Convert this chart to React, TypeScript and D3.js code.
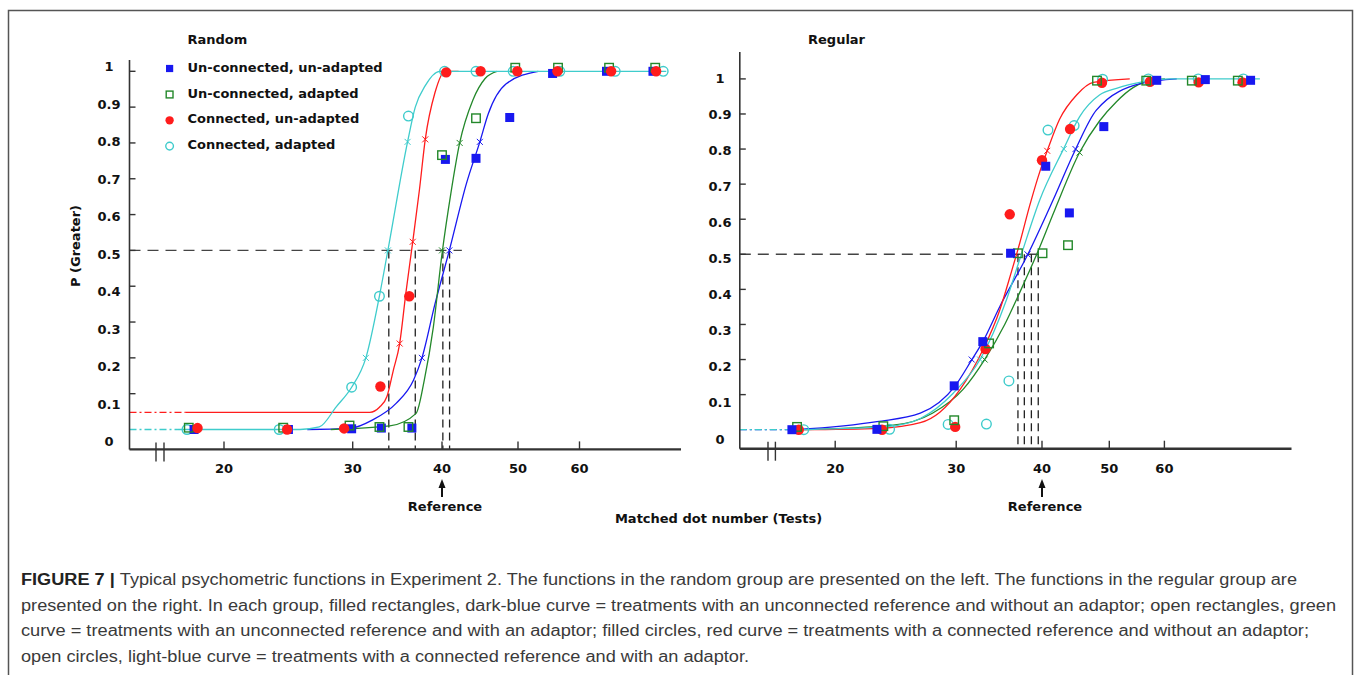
import * as d3 from 'd3'

type Pt = [number, number]

// ---- data ----
const xTickValues = [20, 30, 40, 50, 60]
const yTickValues = [0.1, 0.2, 0.3, 0.4, 0.5, 0.6, 0.7, 0.8, 0.9, 1]
const yLabelValues = [0, 0.1, 0.2, 0.3, 0.4, 0.5, 0.6, 0.7, 0.8, 0.9, 1]
const legendLabels = ['Un-connected, un-adapted', 'Un-connected, adapted', 'Connected, un-adapted', 'Connected, adapted']

// Random group: observed points [matched dot number, P(greater)]
const randomUU: Pt[] = [[18.2, 0], [24.5, 0], [29.9, 0.002], [32.9, 0.004], [36.3, 0.004], [40.4, 0.754], [44.2, 0.757], [48.8, 0.871], [55.4, 0.994], [65.0, 1.0], [74.6, 1.0]]
const randomUA: Pt[] = [[17.9, 0.005], [24.1, 0.005], [29.7, 0.011], [32.7, 0.007], [35.9, 0.007], [40.0, 0.766], [44.2, 0.869], [49.6, 1.01], [56.3, 1.01], [65.5, 1.01], [75.1, 1.01]]
const randomCU: Pt[] = [[18.4, 0.004], [24.4, 0], [29.2, 0.003], [32.8, 0.12], [36.0, 0.372], [40.5, 0.997], [44.8, 1.0], [49.9, 1.0], [56.2, 1.0], [65.9, 1.0], [75.3, 1.0]]
const randomCA: Pt[] = [[17.8, 0], [23.8, 0], [29.9, 0.118], [32.7, 0.372], [35.9, 0.875], [40.3, 1.0], [44.2, 1.0], [49.3, 1.0], [56.6, 1.0], [66.7, 1.0], [76.9, 1.0]]

// Random group: fitted curves
const randomUUFit: Pt[] = [[26.0, 0], [29.7, 0.003], [32.0, 0.027], [34.5, 0.073], [36.5, 0.138], [37.5, 0.2], [39.1, 0.35], [40.87, 0.5], [42.98, 0.687], [44.7, 0.803], [45.8, 0.88], [48.3, 0.965], [53.1, 1.0]]
const randomUAFit: Pt[] = [[28.0, 0], [33.8, 0.01], [36.8, 0.045], [37.8, 0.14], [38.9, 0.286], [40.0, 0.49], [41.06, 0.66], [42.13, 0.8], [43.8, 0.92], [45.4, 0.98], [47.0, 1.0]]
const randomCUFit: Pt[] = [[17.7, 0.048], [31.7, 0.048], [32.7, 0.062], [33.5, 0.092], [34.2, 0.166], [34.9, 0.24], [35.6, 0.38], [36.4, 0.524], [37.2, 0.67], [37.9, 0.81], [39.1, 0.94], [40.35, 1.0], [42.0, 1.0]]
const randomCAFit: Pt[] = [[17.3, 0], [25.4, 0], [27.0, 0.007], [28.5, 0.064], [29.9, 0.118], [31.3, 0.2], [32.7, 0.373], [33.6, 0.5], [35.8, 0.803], [36.7, 0.9], [37.9, 0.96], [39.7, 1.0], [77.6, 1.0]]

// Random group: small x marks on the curves
const randomUUMarks: Pt[] = [[37.5, 0.2], [40.87, 0.5], [44.7, 0.803]]
const randomUAMarks: Pt[] = [[40.0, 0.5], [42.13, 0.8]]
const randomCUMarks: Pt[] = [[34.9, 0.24], [36.4, 0.524], [37.9, 0.81]]
const randomCAMarks: Pt[] = [[31.3, 0.2], [33.6, 0.5], [35.8, 0.803]]
const randomThresholds = [33.7, 36.7, 40.1, 40.9]

// Regular group: observed points
const regularUU: Pt[] = [[17.3, 0], [23.0, 0.001], [29.8, 0.125], [32.8, 0.251], [36.0, 0.503], [40.5, 0.751], [43.8, 0.618], [49.1, 0.864], [58.5, 0.996], [68.7, 0.998], [79.8, 0.996]]
const regularUA: Pt[] = [[17.6, 0.008], [23.5, 0.01], [29.8, 0.027], [33.5, 0.246], [36.9, 0.503], [40.07, 0.503], [43.6, 0.526], [48.0, 0.995], [56.5, 0.995], [65.7, 0.995], [76.5, 0.995]]
const regularCU: Pt[] = [[17.7, 0], [23.4, 0], [29.9, 0.008], [33.1, 0.23], [35.9, 0.614], [40.0, 0.768], [43.9, 0.857], [48.8, 0.989], [57.2, 0.992], [67.2, 0.99], [77.7, 0.99]]
const regularCA: Pt[] = [[18.0, 0], [24.0, 0.001], [29.2, 0.015], [33.2, 0.016], [35.8, 0.139], [40.8, 0.854], [44.5, 0.867], [48.9, 0.999], [56.9, 1.0], [67.1, 1.0], [77.9, 1.0]]

// Regular group: fitted curves
const regularUUFit: Pt[] = [[17.6, 0], [23.0, 0.023], [26.6, 0.047], [29.9, 0.125], [31.6, 0.199], [32.8, 0.251], [34.7, 0.35], [38.1, 0.498], [41.5, 0.655], [44.7, 0.799], [47.9, 0.911], [55.6, 0.987], [62.5, 1.0]]
const regularUAFit: Pt[] = [[17.8, 0], [24.3, 0.013], [27.7, 0.047], [30.7, 0.115], [33.0, 0.2], [35.3, 0.3], [37.1, 0.39], [39.3, 0.5], [41.8, 0.63], [45.3, 0.79], [48.4, 0.88], [51.2, 0.935], [54.1, 0.975], [56.5, 0.992], [60.1, 1.0]]
const regularCUFit: Pt[] = [[17.8, 0], [23.2, 0.004], [26.6, 0.02], [28.4, 0.05], [30.4, 0.115], [32.8, 0.227], [34.7, 0.34], [36.1, 0.45], [37.1, 0.53], [38.4, 0.64], [39.7, 0.735], [40.7, 0.795], [42.4, 0.885], [44.9, 0.955], [47.4, 0.99], [53.5, 1.0]]
const regularCAFit: Pt[] = [[17.2, 0], [23.8, 0.009], [26.6, 0.032], [29.7, 0.104], [32.5, 0.2], [35.5, 0.37], [37.3, 0.498], [39.7, 0.655], [43.0, 0.802], [45.3, 0.892], [48.4, 0.954], [51.2, 0.973], [56.0, 0.992], [61.1, 1.0], [82.3, 1.0]]

const regularUUMarks: Pt[] = [[31.6, 0.2], [38.1, 0.5], [44.7, 0.8]]
const regularUAMarks: Pt[] = [[33.0, 0.2], [45.3, 0.79]]
const regularCUMarks: Pt[] = [[40.7, 0.795]]
const regularCAMarks: Pt[] = [[32.5, 0.2], [43.0, 0.8]]
const regularThresholds = [36.9, 37.7, 38.6, 39.5]

const captionLines = [
  'Typical psychometric functions in Experiment 2. The functions in the random group are presented on the left. The functions in the regular group are',
  'presented on the right. In each group, filled rectangles, dark-blue curve = treatments with an unconnected reference and without an adaptor; open rectangles, green',
  'curve = treatments with an unconnected reference and with an adaptor; filled circles, red curve = treatments with a connected reference and without an adaptor;',
  'open circles, light-blue curve = treatments with a connected reference and with an adaptor.',
]

// ---- styling ----
const BLUE = '#1818f0'
const GREEN = '#23882a'
const RED = '#ff1c1c'
const CYAN = '#3fcccc'
const AXIS = '#333'
const FONT = '"DejaVu Sans", Verdana, sans-serif'

const STYLE = {
  UU: { color: BLUE, shape: 'square', filled: true },
  UA: { color: GREEN, shape: 'square', filled: false },
  CU: { color: RED, shape: 'circle', filled: true },
  CA: { color: CYAN, shape: 'circle', filled: false },
}

const panels = [
  {
    title: 'Random', titleX: 187.5, legend: true,
    axisX: 129.5, axisTop: 60, axisY: 449.4, axisEnd: 681,
    xPx: [224, 352.7, 442, 518, 579.5], y0: 429.5, y1: 71.3, lab0: 441.5, lab1: 66.5, labX: 109,
    breaks: [156, 164], hDashEnd: 42.4, thresholds: randomThresholds,
    stubs: ['CU', 'CA'],
    fitOrder: ['UU', 'UA', 'CU', 'CA'],
    markerOrder: ['CA', 'UU', 'UA', 'CU'],
    series: {
      UU: { pts: randomUU, fit: randomUUFit, marks: randomUUMarks },
      UA: { pts: randomUA, fit: randomUAFit, marks: randomUAMarks },
      CU: { pts: randomCU, fit: randomCUFit, marks: randomCUMarks },
      CA: { pts: randomCA, fit: randomCAFit, marks: randomCAMarks },
    },
  },
  {
    title: 'Regular', titleX: 808, legend: false,
    axisX: 739.8, axisTop: 52, axisY: 448.7, axisEnd: 1291.5,
    xPx: [835.2, 956.2, 1042, 1109.3, 1164.4], y0: 429.7, y1: 78.9, lab0: 439, lab1: 78.5, labX: 720,
    breaks: [768, 775.4], hDashEnd: 39.5, thresholds: regularThresholds,
    stubs: ['UU', 'CA'],
    fitOrder: ['UA', 'UU', 'CU', 'CA'],
    markerOrder: ['CA', 'CU', 'UA', 'UU'],
    series: {
      UU: { pts: regularUU, fit: regularUUFit, marks: regularUUMarks },
      UA: { pts: regularUA, fit: regularUAFit, marks: regularUAMarks },
      CU: { pts: regularCU, fit: regularCUFit, marks: regularCUMarks },
      CA: { pts: regularCA, fit: regularCAFit, marks: regularCAMarks },
    },
  },
]

const fmt = (v: number) => (v === 0 ? '0' : v === 1 ? '1' : d3.format('.1f')(v))

function Marker({ cx, cy, kind, size = 1 }: { cx: number; cy: number; kind: string; size?: number }) {
  const s = STYLE[kind]
  if (s.shape === 'square') {
    const w = (s.filled ? 9 : 8.5) * size
    return (
      <rect x={cx - w / 2} y={cy - w / 2} width={w} height={w}
        fill={s.filled ? s.color : 'none'} stroke={s.color} strokeWidth={s.filled ? 0 : 1.4} />
    )
  }
  const r = (s.filled ? 5.2 : 4.8) * size
  return <circle cx={cx} cy={cy} r={r} fill={s.filled ? s.color : 'none'} stroke={s.color} strokeWidth={s.filled ? 0 : 1.4} />
}

function Panel({ cfg }) {
  const x = d3.scaleLog().domain(xTickValues).range(cfg.xPx)
  const y = d3.scaleLinear().domain([0, 1]).range([cfg.y0, cfg.y1])
  const yLab = d3.scaleLinear().domain([0, 1]).range([cfg.lab0, cfg.lab1])
  const line = d3.line<Pt>().x(d => x(d[0])).y(d => y(d[1])).curve(d3.curveMonotoneX)
  const xStart = x.invert(cfg.axisX)
  const ref = x(40)

  return (
    <g>
      <text x={cfg.titleX} y={44} fontFamily={FONT} fontWeight="bold" fontSize={13} fill="#111">{cfg.title}</text>

      {/* threshold guides */}
      <line x1={cfg.axisX} x2={x(cfg.hDashEnd)} y1={y(0.5)} y2={y(0.5)} stroke="#444" strokeWidth={1.4} strokeDasharray="11,7" />
      {cfg.thresholds.map((t, i) => (
        <line key={i} x1={x(t)} x2={x(t)} y1={y(0.5)} y2={cfg.axisY} stroke="#222" strokeWidth={1.3} strokeDasharray="8,5" />
      ))}

      {/* fitted curves */}
      {cfg.stubs.map(k => {
        const f = cfg.series[k].fit
        return (
          <path key={'s' + k} d={line([[xStart, f[0][1]], f[0]])} fill="none"
            stroke={STYLE[k].color} strokeWidth={1.3} strokeDasharray="7,3,2,3" />
        )
      })}
      {cfg.fitOrder.map(k => (
        <path key={'f' + k} d={line(cfg.series[k].fit)} fill="none" stroke={STYLE[k].color} strokeWidth={1.3} />
      ))}
      {cfg.fitOrder.map(k => cfg.series[k].marks.map((m, i) => {
        const cx = x(m[0]), cy = y(m[1])
        return (
          <path key={'m' + k + i} d={`M${cx - 3},${cy - 3}L${cx + 3},${cy + 3}M${cx - 3},${cy + 3}L${cx + 3},${cy - 3}`}
            stroke={STYLE[k].color} strokeWidth={1} />
        )
      }))}

      {/* observed points */}
      {cfg.markerOrder.map(k => cfg.series[k].pts.map((p, i) => (
        <Marker key={k + i} cx={x(p[0])} cy={y(p[1])} kind={k} />
      )))}

      {/* axes */}
      <line x1={cfg.axisX} x2={cfg.axisX} y1={cfg.axisTop} y2={cfg.axisY} stroke={AXIS} strokeWidth={1.6} />
      <line x1={cfg.axisX} x2={cfg.axisEnd} y1={cfg.axisY} y2={cfg.axisY} stroke={AXIS} strokeWidth={2.4} />
      {yTickValues.map(v => (
        <line key={'yt' + v} x1={cfg.axisX} x2={cfg.axisX + 6} y1={y(v)} y2={y(v)} stroke={AXIS} strokeWidth={1.4} />
      ))}
      {yLabelValues.map(v => (
        <text key={'yl' + v} x={cfg.labX} y={yLab(v)} textAnchor="middle" dominantBaseline="central"
          fontFamily={FONT} fontWeight="bold" fontSize={13} fill="#111">{fmt(v)}</text>
      ))}
      {xTickValues.map(v => (
        <g key={'xt' + v}>
          <line x1={x(v)} x2={x(v)} y1={cfg.axisY} y2={cfg.axisY - 8} stroke={AXIS} strokeWidth={1.4} />
          <text x={x(v)} y={468} textAnchor="middle" dominantBaseline="central"
            fontFamily={FONT} fontWeight="bold" fontSize={13} fill="#111">{v}</text>
        </g>
      ))}
      {cfg.breaks.map(b => (
        <line key={'b' + b} x1={b} x2={b} y1={cfg.axisY - 7} y2={cfg.axisY + 12} stroke={AXIS} strokeWidth={1.4} />
      ))}

      {/* reference arrow */}
      <line x1={ref} x2={ref} y1={486} y2={497} stroke="#111" strokeWidth={2} />
      <path d={`M${ref},479L${ref - 3.5},488L${ref + 3.5},488Z`} fill="#111" />
      <text x={ref + 3} y={511} textAnchor="middle" fontFamily={FONT} fontWeight="bold" fontSize={13} fill="#111">Reference</text>

      {cfg.legend && legendLabels.map((l, i) => {
        const k = ['UU', 'UA', 'CU', 'CA'][i]
        const cy = [67, 93, 118.8, 144.6][i]
        return (
          <g key={l}>
            <Marker cx={169.6} cy={cy + 1.5} kind={k} size={0.8} />
            <text x={187.5} y={cy} dominantBaseline="central" fontFamily={FONT} fontWeight="bold" fontSize={13} fill="#111">{l}</text>
          </g>
        )
      })}
    </g>
  )
}

export default function App() {
  const lineEnds = [1297, 1336, 1309, 749]
  return (
    <svg width={1360} height={675} style={{ position: 'absolute', left: 0, top: 0, background: '#fff' }}>
      <rect x={8.5} y={10.5} width={1344} height={700} fill="#fff" stroke="#555" strokeWidth={1.5} />
      {panels.map(p => <Panel key={p.title} cfg={p} />)}

      <g transform="translate(75,246) rotate(-90)">
        <text textAnchor="middle" dominantBaseline="central" fontFamily={FONT} fontWeight="bold" fontSize={13} fill="#111">P (Greater)</text>
      </g>
      <text x={718.5} y={523} textAnchor="middle" fontFamily={FONT} fontWeight="bold" fontSize={13} fill="#111">Matched dot number (Tests)</text>

      {captionLines.map((l, i) => (
        <text key={i} x={21} y={585 + i * 25.6} textLength={lineEnds[i] - 21} lengthAdjust="spacingAndGlyphs"
          fontFamily='"Liberation Sans", Arial, sans-serif' fontSize={16} fill="#3a3a3a">
          {i === 0 && <tspan fontWeight="bold" fill="#222">FIGURE 7 | </tspan>}
          {l}
        </text>
      ))}
    </svg>
  )
}
